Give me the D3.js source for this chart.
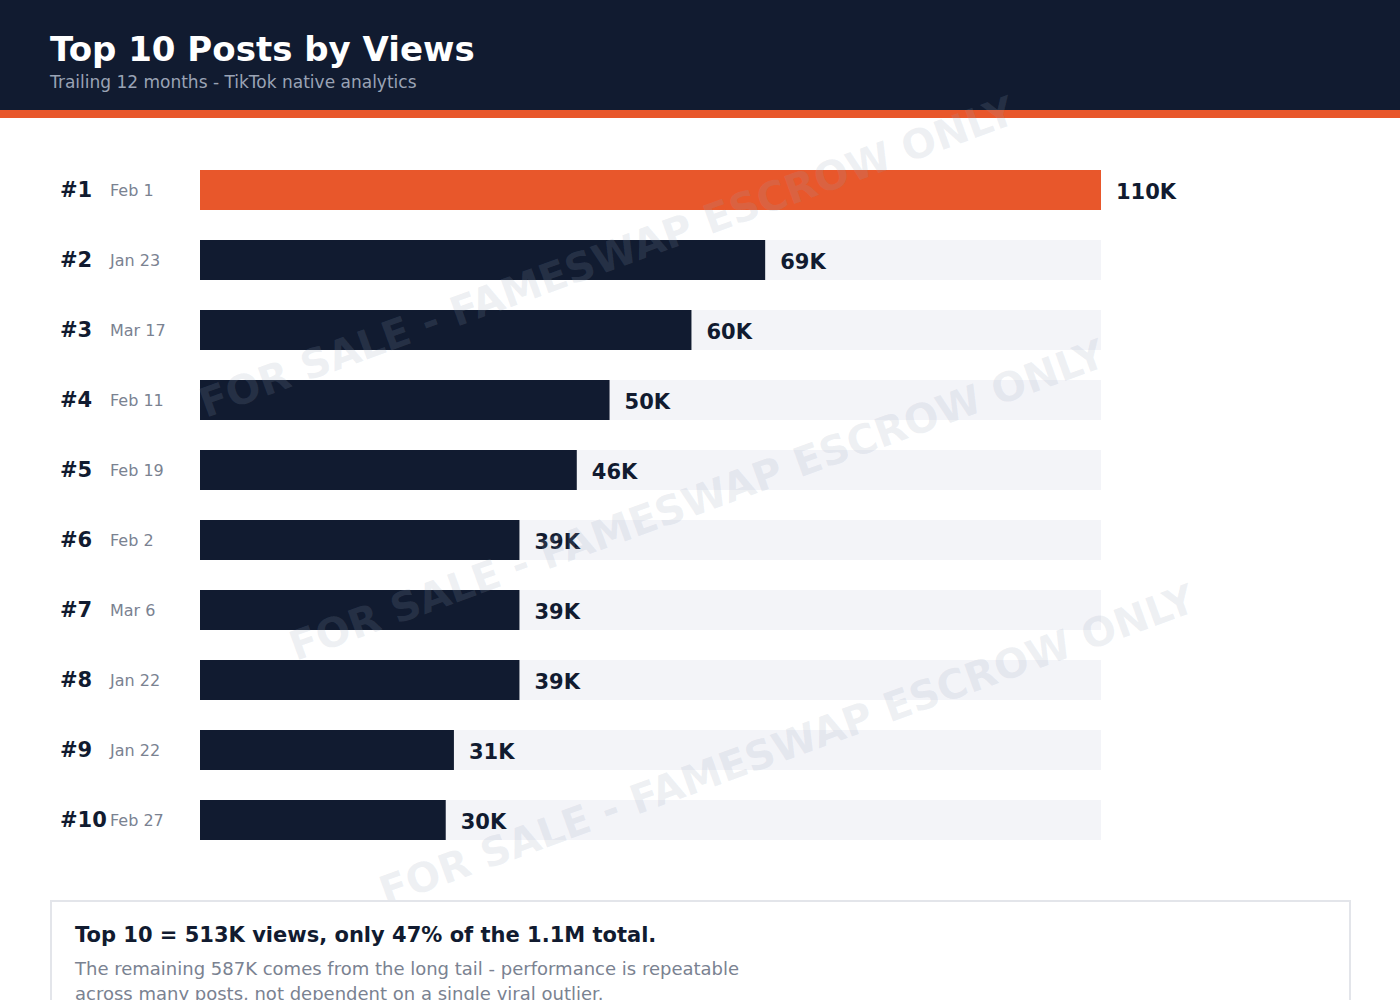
<!DOCTYPE html>
<html>
<head>
<meta charset="utf-8">
<script src="https://cdn.jsdelivr.net/npm/d3@7"></script>
<style>
  html, body { margin: 0; padding: 0; background: #ffffff; }
  svg { display: block; font-family: "DejaVu Sans", sans-serif; }
</style>
</head>
<body>
<svg id="chart" width="1400" height="1000"></svg>
<script>
// data
const ranks = ['#1', '#2', '#3', '#4', '#5', '#6', '#7', '#8', '#9', '#10']
const dates = ['Feb 1', 'Jan 23', 'Mar 17', 'Feb 11', 'Feb 19', 'Feb 2', 'Mar 6', 'Jan 22', 'Jan 22', 'Feb 27']
const views = [110000, 69000, 60000, 50000, 46000, 39000, 39000, 39000, 31000, 30000]
const valueLabels = ['110K', '69K', '60K', '50K', '46K', '39K', '39K', '39K', '31K', '30K']

const navy = '#111b30'
const orange = '#e8572b'
const track = '#f3f4f8'

const svg = d3.select('#chart')

// header band
svg.append('rect').attr('x', 0).attr('y', 0).attr('width', 1400).attr('height', 110).attr('fill', navy)
svg.append('rect').attr('x', 0).attr('y', 110).attr('width', 1400).attr('height', 8).attr('fill', orange)
svg.append('text').attr('x', 50).attr('y', 61)
  .attr('font-size', 34).attr('font-weight', 'bold').attr('fill', '#ffffff')
  .text('Top 10 Posts by Views')
svg.append('text').attr('x', 50).attr('y', 88)
  .attr('font-size', 17).attr('fill', '#9aa3b5')
  .text('Trailing 12 months - TikTok native analytics')

const rows = ranks.map((r, i) => ({ rank: r, date: dates[i], value: views[i], label: valueLabels[i] }))

const x = d3.scaleLinear().domain([0, d3.max(views)]).range([200, 1101])
const y = d3.scaleBand().domain(ranks).range([155, 855]).paddingInner(0.4286).paddingOuter(0.2143)

const g = svg.append('g')

const row = g.selectAll('g.row')
  .data(rows)
  .enter()
  .append('g')
  .attr('class', 'row')
  .attr('transform', d => `translate(0,${y(d.rank)})`)

row.append('rect')
  .attr('x', x(0))
  .attr('width', x.range()[1] - x(0))
  .attr('height', y.bandwidth())
  .attr('fill', track)

row.append('rect')
  .attr('x', x(0))
  .attr('width', d => x(d.value) - x(0))
  .attr('height', y.bandwidth())
  .attr('fill', (d, i) => i === 0 ? orange : navy)

row.append('text')
  .attr('x', 60)
  .attr('y', y.bandwidth() / 2 + 7)
  .attr('font-size', 21).attr('font-weight', 'bold').attr('fill', navy)
  .text(d => d.rank)

row.append('text')
  .attr('x', 110)
  .attr('y', y.bandwidth() / 2 + 6)
  .attr('font-size', 16).attr('fill', '#7a8291')
  .text(d => d.date)

row.append('text')
  .attr('x', d => x(d.value) + 15)
  .attr('y', y.bandwidth() / 2 + 9)
  .attr('font-size', 21).attr('font-weight', 'bold').attr('fill', navy)
  .text(d => d.label)

// watermark on top, faint
const marks = [[608, 260], [698, 503], [788, 748]]
svg.append('g').selectAll('text')
  .data(marks)
  .enter()
  .append('text')
  .attr('transform', d => `translate(${d[0]},${d[1]}) rotate(-20)`)
  .attr('text-anchor', 'middle')
  .attr('dominant-baseline', 'middle')
  .attr('font-size', 40.5).attr('font-weight', 'bold')
  .attr('fill', '#94a3b8').attr('fill-opacity', 0.16)
  .text('FOR SALE - FAMESWAP ESCROW ONLY')

// summary box
svg.append('rect').attr('x', 51).attr('y', 901).attr('width', 1299).attr('height', 140)
  .attr('fill', '#ffffff').attr('stroke', '#e3e5ea').attr('stroke-width', 2)
svg.append('text').attr('x', 75).attr('y', 942)
  .attr('font-size', 21).attr('font-weight', 'bold').attr('fill', navy)
  .text('Top 10 = 513K views, only 47% of the 1.1M total.')
svg.append('text').attr('x', 75).attr('y', 975)
  .attr('font-size', 18).attr('fill', '#7a8291')
  .text('The remaining 587K comes from the long tail - performance is repeatable')
svg.append('text').attr('x', 75).attr('y', 1000)
  .attr('font-size', 18).attr('fill', '#7a8291')
  .text('across many posts, not dependent on a single viral outlier.')
</script>
</body>
</html>
